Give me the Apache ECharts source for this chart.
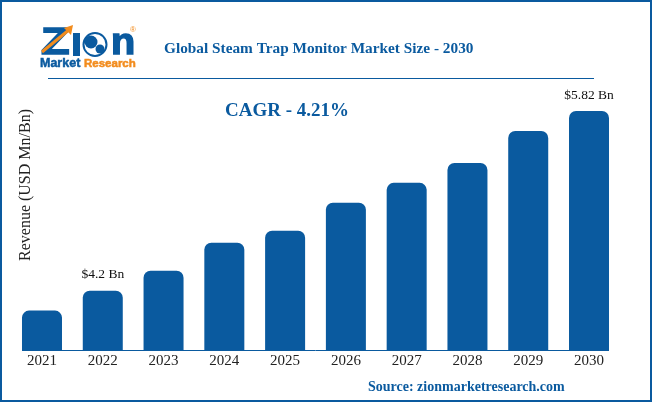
<!DOCTYPE html>
<html>
<head>
<meta charset="utf-8">
<style>
  html, body { margin: 0; padding: 0; background: #fff; }
  #chart { width: 652px; height: 402px; }
</style>
<script src="https://cdn.jsdelivr.net/npm/echarts@6/dist/echarts.min.js"></script>
</head>
<body>
<div id="chart"></div>
<script>
// the picture has no value axis, so heights are read off in axis units (px above baseline)
const years = ['2021', '2022', '2023', '2024', '2025', '2026', '2027', '2028', '2029', '2030']
const barHeights = [40, 60, 80, 108, 120, 148, 168, 188, 220, 240]
const barLabels = ['', '$4.2 Bn', '', '', '', '', '', '', '', '$5.82 Bn']

const blue = '#0a5a9f'
const orange = '#f28c1e'
const serif = '"Liberation Serif", "Times New Roman", serif'
const sans = '"Liberation Sans", Arial, sans-serif'

const chart = echarts.init(document.getElementById('chart'), null, { renderer: 'canvas' })

function logoText(x, y, text, size, color, scaleX, stroke) {
  return {
    type: 'text',
    x,
    y,
    scaleX: scaleX || 1,
    style: {
      text,
      fill: color,
      stroke: color,
      lineWidth: stroke || 0.5,
      font: `bold ${size}px ${sans}`,
      textVerticalAlign: 'middle',
    },
  }
}

chart.setOption({
  animation: false,
  backgroundColor: '#fff',
  title: [
    {
      text: 'Global Steam Trap Monitor Market Size - 2030',
      left: 159,
      top: 37,
      textStyle: { color: blue, fontFamily: serif, fontSize: 15.3, fontWeight: 'bold' },
    },
    {
      text: 'CAGR - 4.21%',
      left: 220,
      top: 97,
      textStyle: { color: blue, fontFamily: serif, fontSize: 19, fontWeight: 'bold' },
    },
    {
      text: 'Source: zionmarketresearch.com',
      left: 363,
      top: 375,
      textStyle: { color: blue, fontFamily: serif, fontSize: 14, fontWeight: 'bold' },
    },
  ],
  grid: { left: 11.6, right: 32.6, top: 111, bottom: 51.5 },
  xAxis: {
    type: 'category',
    data: years,
    axisLine: { show: false },
    axisTick: { show: false },
    axisLabel: { color: '#222', fontFamily: serif, fontSize: 15, margin: 3 },
  },
  yAxis: {
    type: 'value',
    min: 0,
    max: 240,
    show: false,
  },
  series: [
    {
      type: 'bar',
      data: barHeights.map((v, i) => ({
        value: v,
        label: { show: barLabels[i] !== '', formatter: barLabels[i] },
      })),
      barWidth: 40,
      itemStyle: { color: blue, borderRadius: [7, 7, 0, 0] },
      label: {
        position: 'top',
        distance: 9,
        color: '#111',
        fontFamily: serif,
        fontSize: 13.5,
      },
    },
  ],
  graphic: [
    // frame
    { type: 'rect', shape: { x: 1, y: 1, width: 650, height: 400 }, style: { fill: 'none', stroke: blue, lineWidth: 2 } },
    // rule under the header
    { type: 'line', shape: { x1: 48, y1: 78.5, x2: 594, y2: 78.5 }, style: { stroke: blue, lineWidth: 1 } },
    // baseline, only as wide as the bars
    { type: 'line', shape: { x1: 22, y1: 350.5, x2: 609, y2: 350.5 }, style: { stroke: blue, lineWidth: 1 } },
    // y axis title
    {
      type: 'text',
      x: 26,
      y: 185,
      rotation: Math.PI / 2,
      style: {
        text: 'Revenue (USD Mn/Bn)',
        fill: '#222',
        font: `16px ${serif}`,
        textAlign: 'center',
        textVerticalAlign: 'middle',
      },
    },
    // logo
    logoText(41, 44, 'Z', 36, blue, 1.3, 1.4),
    { type: 'rect', shape: { x: 73, y: 33, width: 7, height: 23 }, style: { fill: blue } },
    { type: 'circle', shape: { cx: 95, cy: 44.5, r: 11.5 }, style: { fill: '#fff', stroke: blue, lineWidth: 2 } },
    { type: 'circle', shape: { cx: 91, cy: 42, r: 6.5 }, style: { fill: blue } },
    { type: 'circle', shape: { cx: 100, cy: 49, r: 4.5 }, style: { fill: blue } },
    logoText(111, 44, 'n', 36, blue, 1.1, 1.4),
    { type: 'line', shape: { x1: 42, y1: 52, x2: 70, y2: 29 }, style: { stroke: orange, lineWidth: 3 } },
    { type: 'polygon', shape: { points: [[73, 25], [64, 28], [71, 35]] }, style: { fill: orange } },
    logoText(40, 64, 'Market', 12.5, blue),
    logoText(84, 64, 'Research', 11.5, orange),
    { type: 'text', x: 130, y: 30, style: { text: '®', fill: orange, font: `8px ${sans}`, textVerticalAlign: 'middle' } },
  ],
})
</script>
</body>
</html>
